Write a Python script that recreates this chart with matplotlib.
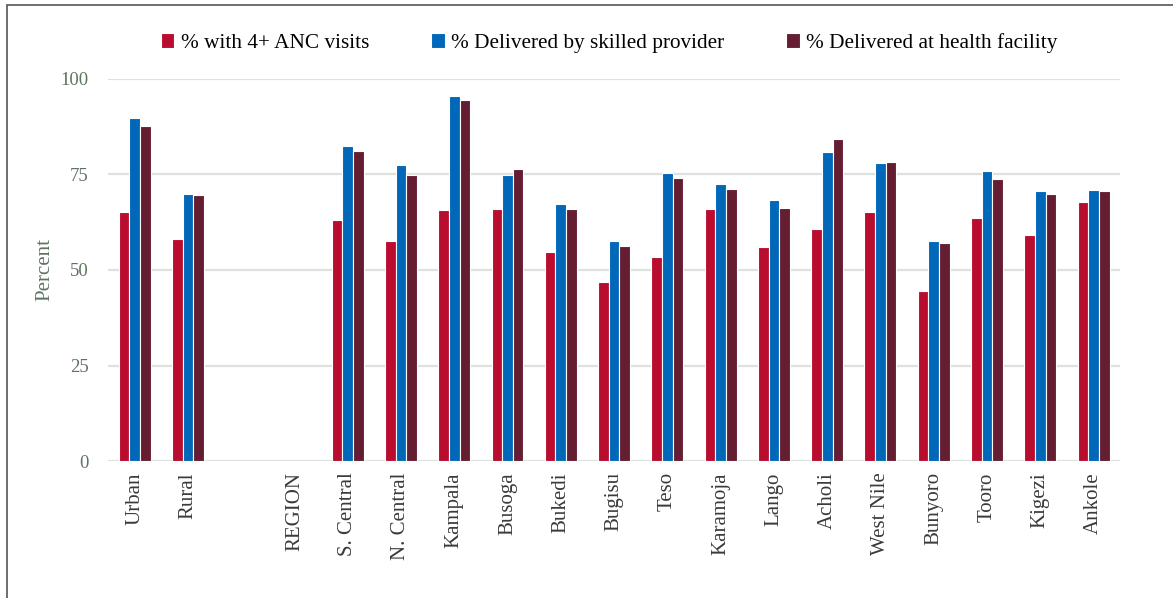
import numpy as np
import matplotlib.pyplot as plt
from matplotlib.patches import Rectangle

categories = ["Urban", "Rural", "", "REGION", "S. Central", "N. Central", "Kampala",
              "Busoga", "Bukedi", "Bugisu", "Teso", "Karamoja", "Lango", "Acholi",
              "West Nile", "Bunyoro", "Tooro", "Kigezi", "Ankole"]

anc_visits = [65.2, 58.2, np.nan, np.nan, 63.2, 57.5, 65.7, 66.0, 54.6, 46.9, 53.4,
              66.0, 55.9, 60.7, 65.2, 44.5, 63.6, 59.2, 67.8]
skilled_provider = [89.7, 70.0, np.nan, np.nan, 82.5, 77.4, 95.6, 74.8, 67.2, 57.6, 75.3,
                    72.5, 68.3, 81.0, 77.9, 57.7, 76.0, 70.7, 70.9]
health_facility = [87.8, 69.5, np.nan, np.nan, 81.2, 74.8, 94.4, 76.5, 66.0, 56.2, 74.0,
                   71.2, 66.3, 84.2, 78.3, 57.0, 73.7, 69.8, 70.7]

series_names = ["% with 4+ ANC visits", "% Delivered by skilled provider",
                "% Delivered at health facility"]
colors = ["#BA0C2F", "#0067B9", "#651D32"]

plt.rcParams['font.family'] = ['Liberation Serif', 'DejaVu Serif']

fig = plt.figure(figsize=(11.73, 5.98), dpi=100)
ax = fig.add_axes([0.092, 0.229, 0.863, 0.639])

x = np.arange(len(categories))
w = 0.2
for i, (vals, name, c) in enumerate(zip([anc_visits, skilled_provider, health_facility],
                                        series_names, colors)):
    ax.bar(x + (i - 1) * w, vals, w, color=c, label=name, edgecolor="white",
           linewidth=0.8, zorder=3)

ax.set_ylim(0, 100)
ax.set_xlim(-0.5, len(categories) - 0.5)
ax.set_yticks([0, 25, 50, 75, 100])
ax.yaxis.grid(True, color="#dce3dc", linewidth=1.6, zorder=0)
ax.tick_params(axis="y", length=0, labelsize=13.5, labelcolor="#5f7360", pad=14)
ax.tick_params(axis="x", length=0, labelsize=15, labelcolor="#3a3a3a", pad=8)
ax.set_xticks(x)
ax.set_xticklabels(categories, rotation=90, va="top", ha="center")
for s in ax.spines.values():
    s.set_visible(False)
ax.set_ylabel("Percent", fontsize=15, color="#5f7360", labelpad=4)

ax.legend(loc="center", bbox_to_anchor=(0.495, 1.094), ncol=3, frameon=False,
          fontsize=15.3, handlelength=0.65, handleheight=0.65, handletextpad=0.3,
          columnspacing=2.9)

fig.patches.append(Rectangle((7 / 1173, -0.1), 1.2, 1 - 5 / 598 + 0.1,
                             transform=fig.transFigure, fill=False,
                             edgecolor="#555555", linewidth=1.2))

fig.savefig("out.png", dpi=100)
